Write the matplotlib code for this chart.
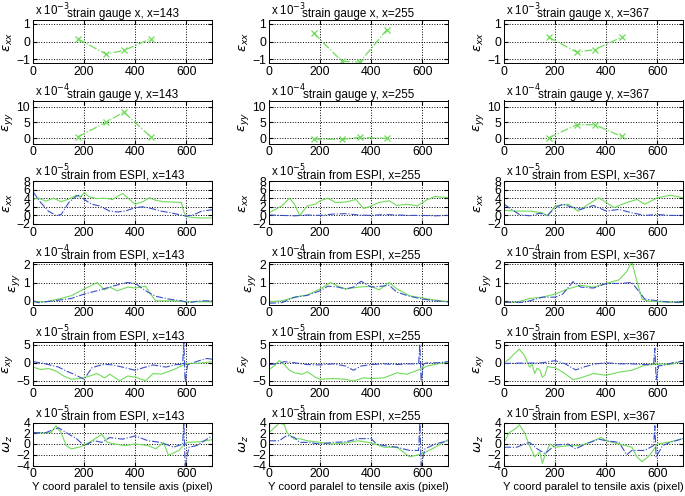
import matplotlib
matplotlib.use("Agg")
import matplotlib.pyplot as plt

plt.rcParams['font.family'] = ['Liberation Sans', 'DejaVu Sans']
plt.rcParams['mathtext.fontset'] = 'dejavusans'

positions = [143, 255, 367]
gauge_x = [175, 285, 355, 460]

# strain gauge x (x 1e-3)
sg_exx_143 = [0.15, -0.7, -0.5, 0.15]
sg_exx_255 = [0.46, -1.1, -1.15, 0.64]
sg_exx_367 = [0.24, -0.6, -0.45, 0.24]
# strain gauge y (x 1e-4)
sg_eyy_143 = [0.5, 5.0, 8.3, 0.5]
sg_eyy_255 = [-0.2, -0.3, 0.3, 0.0]
sg_eyy_367 = [0.2, 4.3, 4.3, 0.6]

# ESPI exx (x 1e-5)
exx_143_g = [(0,3.7),(20,4.1),(50,3.3),(80,4.0),(110,3.2),(140,3.8),(170,4.7),(185,4.2),(200,5.3),(220,4.3),(250,3.9),(280,4.0),(310,3.7),(350,5.1),(380,3.6),(400,2.6),(430,3.2),(455,4.1),(480,3.5),(510,3.2),(550,3.1),(580,3.0),(590,0.8),(600,-0.3),(630,-0.5),(660,-0.6),(700,-0.6)]
exx_143_b = [(0,5.5),(30,3.0),(60,1.0),(90,0.0),(110,0.2),(140,3.0),(170,4.5),(185,4.7),(200,3.7),(230,2.6),(260,2.2),(300,1.0),(330,0.8),(360,1.0),(400,1.8),(430,2.0),(470,1.5),(500,1.0),(540,0.6),(570,0.2),(600,-0.2),(630,0.2),(660,1.0),(700,1.3)]
exx_255_g = [(0,0.6),(50,2.2),(80,4.0),(100,2.6),(120,0.0),(150,2.2),(180,2.6),(200,3.4),(230,4.0),(260,3.0),(300,3.1),(340,3.7),(370,1.6),(400,2.2),(430,3.0),(470,3.4),(500,2.3),(540,2.6),(580,2.2),(620,3.7),(650,4.4),(700,4.1)]
exx_255_b = [(0,0.1),(50,0.0),(100,-0.1),(150,0.1),(200,0.0),(250,0.3),(300,0.4),(350,0.1),(400,0.0),(450,0.2),(500,0.1),(550,0.0),(600,0.0),(650,-0.1),(700,0.0)]
exx_367_g = [(0,1.2),(50,1.0),(100,1.0),(150,0.6),(170,-0.1),(200,2.2),(250,2.6),(290,1.0),(330,2.6),(370,4.1),(400,3.0),(430,1.8),(480,3.0),(520,3.7),(550,2.6),(600,4.1),(650,4.7),(700,4.1)]
exx_367_b = [(0,2.6),(30,1.4),(60,0.2),(100,-0.1),(140,0.5),(170,0.0),(200,1.8),(230,2.6),(260,2.0),(300,1.4),(350,2.3),(400,1.0),(450,1.4),(500,0.6),(550,0.0),(600,0.2),(650,0.0),(700,0.0)]

# ESPI eyy (x 1e-4)
eyy_143_g = [(0,-0.05),(50,-0.05),(100,0.1),(150,0.28),(200,0.65),(230,0.85),(250,1.0),(280,0.6),(300,0.75),(330,0.55),(370,0.75),(400,0.7),(440,0.8),(460,0.37),(480,0.0),(550,0.0),(600,-0.05),(700,-0.05)]
eyy_143_b = [(0,0.0),(20,-0.1),(80,0.0),(150,0.13),(200,0.37),(250,0.55),(300,0.75),(350,0.95),(370,1.0),(400,0.95),(420,0.75),(450,0.47),(480,0.25),(530,0.1),(580,0.0),(610,-0.1),(650,0.0),(700,0.0)]
eyy_255_g = [(0,-0.05),(50,0.0),(100,0.2),(150,0.32),(200,0.65),(240,1.0),(270,0.8),(300,0.65),(350,0.75),(400,0.8),(430,0.6),(470,1.0),(500,0.65),(550,0.28),(600,0.15),(650,0.04),(700,-0.05)]
eyy_255_b = [(0,-0.13),(50,-0.1),(100,0.2),(150,0.3),(200,0.55),(230,0.8),(270,0.75),(300,0.65),(330,0.75),(360,1.07),(400,0.75),(440,0.8),(470,0.85),(500,0.47),(550,0.25),(600,0.1),(650,0.0),(700,-0.05)]
eyy_367_g = [(0,-0.08),(50,-0.08),(100,0.13),(150,0.2),(200,0.37),(250,0.65),(300,0.85),(350,0.75),(400,0.95),(450,1.15),(480,1.6),(500,2.15),(520,1.05),(540,0.1),(560,0.0),(600,-0.05),(700,-0.08)]
eyy_367_b = [(0,-0.08),(80,-0.08),(100,0.0),(150,0.2),(200,0.2),(230,0.37),(270,1.05),(300,0.75),(350,0.7),(400,0.95),(450,0.95),(500,1.0),(530,0.47),(550,0.1),(600,0.0),(650,-0.08),(700,-0.08)]

# ESPI exy (x 1e-5)
exy_143_g = [(0,-1.2),(30,-1.9),(60,-1.6),(90,-2.3),(120,-3.7),(150,-4.6),(200,-4.2),(250,-3.0),(280,-4.2),(300,-3.2),(340,-5.0),(370,-3.7),(400,-4.0),(440,-5.0),(470,-3.0),(500,-3.2),(550,-1.9),(580,-0.9),(600,-0.3),(650,-0.1),(700,0.3)]
exy_143_b = [(0,0.3),(30,0.0),(60,-0.5),(100,-1.2),(130,-2.3),(160,-3.2),(200,-4.6),(230,-1.4),(270,-0.5),(300,-0.5),(350,-1.2),(400,-2.1),(430,-1.4),(470,-0.6),(520,-1.2),(560,-0.5),(585,-0.5),(590,5.5),(595,-5.5),(605,-0.5),(650,0.6),(680,1.2),(700,1.0)]
exy_255_g = [(0,-1.9),(20,-0.9),(40,0.6),(60,-0.5),(80,-2.1),(100,-2.8),(130,-3.2),(150,-2.5),(180,-4.0),(200,-4.6),(250,-4.4),(300,-4.6),(330,-5.1),(370,-4.2),(400,-4.4),(450,-4.2),(500,-2.8),(540,-3.2),(580,-2.1),(620,-0.9),(660,-0.3),(700,0.3)]
exy_255_b = [(0,-0.5),(30,-0.3),(60,0.3),(100,0.0),(150,-0.5),(200,-0.6),(250,-0.3),(300,-0.9),(330,-2.1),(360,-0.9),(400,-0.5),(450,-0.3),(500,-0.5),(550,-0.3),(585,-0.3),(590,5.1),(595,-5.1),(605,-0.3),(620,0.0),(660,0.0),(700,0.3)]
exy_367_g = [(0,0.0),(20,1.0),(40,2.5),(60,3.8),(80,2.0),(100,-1.2),(110,-0.5),(120,-3.0),(130,-1.5),(140,-2.0),(150,-4.0),(160,-3.5),(170,-1.0),(180,-1.2),(200,-1.4),(230,-2.6),(270,-4.7),(300,-4.2),(350,-3.0),(400,-3.5),(450,-2.6),(500,-2.1),(550,-0.7),(600,-0.3),(650,-0.5),(700,0.5)]
exy_367_b = [(0,-0.2),(50,-0.1),(100,-0.1),(150,0.0),(200,0.6),(240,-0.3),(280,-2.0),(320,-1.0),(360,-0.3),(400,0.0),(450,-0.3),(500,-0.3),(550,-0.5),(585,-0.5),(590,4.1),(595,-4.7),(605,-0.8),(620,-0.8),(660,0.0),(700,0.5)]

# ESPI wz (x 1e-5)
wz_143_g = [(0,2.1),(40,2.1),(70,2.1),(90,3.4),(110,2.1),(130,-0.3),(150,-0.9),(180,-0.6),(200,-0.2),(230,0.6),(270,1.8),(290,0.3),(320,0.0),(360,-0.3),(400,0.0),(450,-0.3),(480,-0.9),(510,0.3),(530,-2.1),(570,-1.2),(600,0.3),(650,0.4),(700,0.8)]
wz_143_b = [(0,2.1),(50,2.1),(80,2.7),(100,3.0),(130,2.1),(170,1.0),(200,-0.3),(240,0.6),(270,0.3),(300,1.2),(350,0.9),(400,1.5),(450,0.6),(500,0.3),(550,-0.6),(585,0.0),(590,4.0),(595,-4.0),(610,-0.6),(640,-0.3),(700,1.5)]
wz_255_g = [(0,2.1),(20,3.0),(40,3.9),(60,3.6),(70,2.1),(100,0.9),(120,1.0),(150,0.6),(200,0.3),(250,0.0),(300,0.2),(350,0.6),(400,0.2),(450,-0.6),(500,-0.6),(550,-2.4),(600,-1.8),(650,-0.6),(700,0.8)]
wz_255_b = [(0,0.6),(40,0.6),(70,1.6),(100,1.2),(120,0.3),(150,0.3),(200,0.0),(250,0.3),(300,0.4),(350,1.0),(400,1.0),(420,0.0),(450,-0.3),(500,-0.6),(550,-1.2),(585,-1.2),(590,4.0),(595,-4.0),(610,-0.9),(650,0.0),(700,0.6)]
wz_367_g = [(0,0.3),(20,2.1),(50,3.0),(60,3.6),(80,2.1),(100,-0.3),(120,-2.4),(140,-1.5),(150,-3.6),(160,-2.1),(180,0.0),(200,-0.6),(250,-0.3),(300,-0.3),(350,0.6),(380,1.2),(400,0.6),(450,0.0),(500,-0.6),(520,-2.4),(540,-3.3),(570,-2.1),(600,0.0),(650,0.4),(700,1.0)]
wz_367_b = [(0,-0.6),(50,-0.6),(80,0.0),(100,0.3),(130,-0.9),(160,-1.8),(200,-0.2),(250,0.0),(280,-0.9),(320,0.0),(370,0.9),(400,0.6),(450,0.3),(480,-2.0),(500,-1.2),(550,-1.2),(585,-0.3),(590,3.4),(595,-2.4),(620,-0.3),(650,0.3),(700,1.0)]

GREEN = '#6fdc5a'
BLUE = '#3a4fc8'

fig = plt.figure(figsize=(6.85, 4.96), dpi=100)
W, H = 685.0, 496.0
col_left = [33, 269, 504]
ax_w = 179
row_top = [20, 100.5, 181, 261.5, 342, 422.5]
ax_h = 43

rows = [
    dict(kind='gauge', data=[sg_exx_143, sg_exx_255, sg_exx_367], ylim=(-1.2, 1.2), yt=[-1, 0, 1],
         exp='-3', title='strain gauge x, x={}', ylab=r'$\epsilon_{xx}$'),
    dict(kind='gauge', data=[sg_eyy_143, sg_eyy_255, sg_eyy_367], ylim=(-1.6, 11.9), yt=[0, 5, 10],
         exp='-4', title='strain gauge y, x={}', ylab=r'$\epsilon_{yy}$'),
    dict(kind='espi', data=[(exx_143_g, exx_143_b), (exx_255_g, exx_255_b), (exx_367_g, exx_367_b)],
         ylim=(-2, 8), yt=[-2, 0, 2, 4, 6, 8], exp='-5', title='strain from ESPI, x={}', ylab=r'$\epsilon_{xx}$'),
    dict(kind='espi', data=[(eyy_143_g, eyy_143_b), (eyy_255_g, eyy_255_b), (eyy_367_g, eyy_367_b)],
         ylim=(-0.2, 2.15), yt=[0, 1, 2], exp='-4', title='strain from ESPI, x={}', ylab=r'$\epsilon_{yy}$'),
    dict(kind='espi', data=[(exy_143_g, exy_143_b), (exy_255_g, exy_255_b), (exy_367_g, exy_367_b)],
         ylim=(-6.2, 5.8), yt=[-5, 0, 5], exp='-5', title='strain from ESPI, x={}', ylab=r'$\epsilon_{xy}$'),
    dict(kind='espi', data=[(wz_143_g, wz_143_b), (wz_255_g, wz_255_b), (wz_367_g, wz_367_b)],
         ylim=(-4, 4), yt=[-4, -2, 0, 2, 4], exp='-5', title='strain from ESPI, x={}', ylab=r'$\omega_z$'),
]

for r, spec in enumerate(rows):
    for c in range(3):
        left = col_left[c] / W
        bottom = 1 - (row_top[r] + ax_h) / H
        ax = fig.add_axes([left, bottom, ax_w / W, ax_h / H])
        if spec['kind'] == 'gauge':
            ax.plot(gauge_x, spec['data'][c], color=GREEN, linestyle='-.', marker='x',
                    markersize=4, linewidth=0.9, markeredgewidth=0.9)
        else:
            g, b = spec['data'][c]
            ax.plot([p[0] for p in g], [p[1] for p in g], color=GREEN, linewidth=0.8)
            ax.plot([p[0] for p in b], [p[1] for p in b], color=BLUE, linestyle='-.', linewidth=0.8)
        ax.set_xlim(0, 700)
        ax.set_ylim(*spec['ylim'])
        ax.set_xticks([0, 200, 400, 600])
        ax.set_yticks(spec['yt'])
        ax.grid(True, linestyle=':', color='black', linewidth=0.7)
        ax.tick_params(direction='in', top=True, right=True, length=3, labelsize=8.8, pad=2)
        for s in ax.spines.values():
            s.set_linewidth(0.7)
        ax.set_ylabel(spec['ylab'], fontsize=9.5, labelpad=1)
        ax.set_title(spec['title'].format(positions[c]), fontsize=8.4, pad=2)
        ax.text(0.01, 1.03, 'x 10$^{' + spec['exp'] + '}$', transform=ax.transAxes,
                ha='left', va='bottom', fontsize=8.3)
        if r == 5:
            ax.set_xlabel('Y coord paralel to tensile axis (pixel)', fontsize=8.1, labelpad=1)

fig.savefig('out.png', dpi=100)
